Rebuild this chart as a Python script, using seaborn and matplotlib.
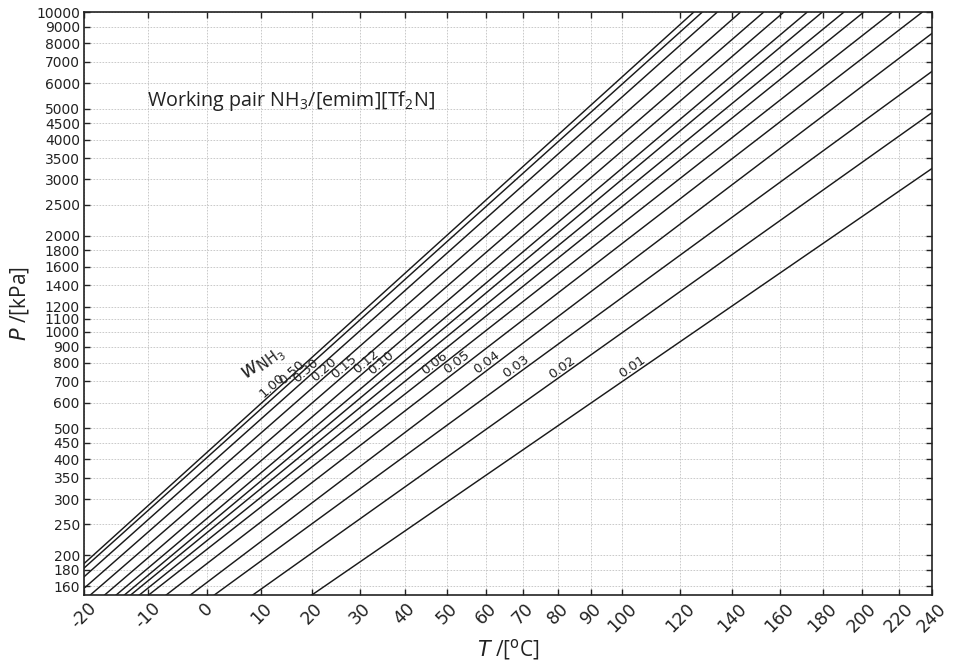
import numpy as np
import pandas as pd
import matplotlib
matplotlib.use("Agg")
import matplotlib.pyplot as plt
import seaborn as sns

# NH3 mass fraction of each isoster (1.00 = pure ammonia)
w_nh3 = ['1.00', '0.50', '0.30', '0.20', '0.15', '0.12', '0.10', '0.09',
         '0.08', '0.07', '0.06', '0.05', '0.04', '0.03', '0.02', '0.01']
# temperature (degC) at which each curve reaches 150 kPa and 10000 kPa
t_at_150kpa = [-25.2, -24.5, -23.1, -21.2, -19.1, -16.9, -15.1, -13.8,
               -12.8, -11.4, -9.9, -7.0, -2.9, 1.3, 8.3, 19.8]
t_at_10mpa = [125.0, 128.2, 134.0, 143.3, 153.0, 161.8, 172.5, 179.7,
              190.4, 200.7, 216.3, 233.9, 257.9, 295.8, 346.0, 434.7]
p_ends = [150, 10000]
# where the w labels sit on the curves (degC), None = unlabelled curve
label_t = [12.8, 16.7, 19.5, 23.2, 27.4, 32.2, 35.5, None,
           None, None, 47.9, 53.6, 61.1, 69.2, 82.4, 104.6]

t_ticks = [-20, -10, 0, 10, 20, 30, 40, 50, 60, 70, 80, 90, 100,
           120, 140, 160, 180, 200, 220, 240]
p_ticks = [160, 180, 200, 250, 300, 350, 400, 450, 500, 600, 700, 800, 900,
           1000, 1100, 1200, 1400, 1600, 1800, 2000, 2500, 3000, 3500, 4000,
           4500, 5000, 6000, 7000, 8000, 9000, 10000]


def tx(t):
    # Duhring-type abscissa: -1/T (T in K)
    return -1000.0 / (np.asarray(t, dtype=float) + 273.15)


sns.set_theme(style="ticks")
plt.rcParams['font.family'] = ['DejaVu Sans']
plt.rcParams['mathtext.default'] = 'regular'

rows = []
for w, t1, t2 in zip(w_nh3, t_at_150kpa, t_at_10mpa):
    rows.append({'w': w, 'x': float(tx(t1)), 'P': p_ends[0]})
    rows.append({'w': w, 'x': float(tx(t2)), 'P': p_ends[1]})
df = pd.DataFrame(rows)

fig = plt.figure(figsize=(9.56, 6.65), dpi=100)
ax = fig.add_axes([0.0879, 0.1048, 0.8870, 0.8767])
ax.set_yscale('log')

sns.lineplot(data=df, x='x', y='P', hue='w', hue_order=w_nh3,
             palette=['#1a1a1a'] * len(w_nh3), legend=False, lw=1.05,
             sort=True, ax=ax)

ax.set_xlim(tx(-20), tx(240))
ax.set_ylim(150, 10000)
ax.set_xticks(tx(t_ticks))
ax.set_xticklabels([str(t) for t in t_ticks], rotation=45, ha='center',
                   fontsize=12.5, color='#222222')
ax.set_yticks(p_ticks)
ax.set_yticklabels([str(p) for p in p_ticks], fontsize=10, color='#222222')
ax.minorticks_off()
ax.tick_params(which='both', direction='in', top=True, right=True,
               length=4, width=1, colors='#222222', pad=3)
ax.grid(True, linestyle=(0, (2, 1.6)), color='#c2c2c2', lw=0.6)
for s in ax.spines.values():
    s.set_color('#222222')
    s.set_linewidth(1.2)

ax.set_xlabel(r'$\mathit{T}$ /[$^\mathrm{o}$C]', fontsize=15,
              family='Open Sans', color='#222222')
ax.set_ylabel(r'$\mathit{P}$ /[kPa]', fontsize=15, family='Open Sans',
              color='#222222')
ax.xaxis.set_label_coords(0.5, -0.071)
ax.yaxis.set_label_coords(-0.063, 0.5)

ax.text(0.0743, 0.848, r'Working pair NH$_3$/[emim][Tf$_2$N]',
        transform=ax.transAxes, fontsize=14.2, family='Open Sans',
        ha='left', va='center', color='#222222')
ax.text(0.212, 0.397, r'$\mathit{w}_{\mathrm{NH_3}}$', transform=ax.transAxes,
        fontsize=15, rotation=36, ha='center', va='center', color='#222222')

# curve labels, rotated along each line
lp0, lp1 = np.log10(p_ends[0]), np.log10(p_ends[1])
for w, t1, t2, tl in zip(w_nh3, t_at_150kpa, t_at_10mpa, label_t):
    if tl is None:
        continue
    x1, x2, xl = tx(t1), tx(t2), tx(tl)
    pl = 10 ** (lp0 + (xl - x1) / (x2 - x1) * (lp1 - lp0))
    d1 = ax.transData.transform((x1, p_ends[0]))
    d2 = ax.transData.transform((x2, p_ends[1]))
    ang = np.degrees(np.arctan2(d2[1] - d1[1], d2[0] - d1[0]))
    ax.text(xl, pl, w, fontsize=9.5, rotation=ang, rotation_mode='anchor',
            ha='center', va='bottom', color='#222222')

fig.savefig('out.png', dpi=100)
